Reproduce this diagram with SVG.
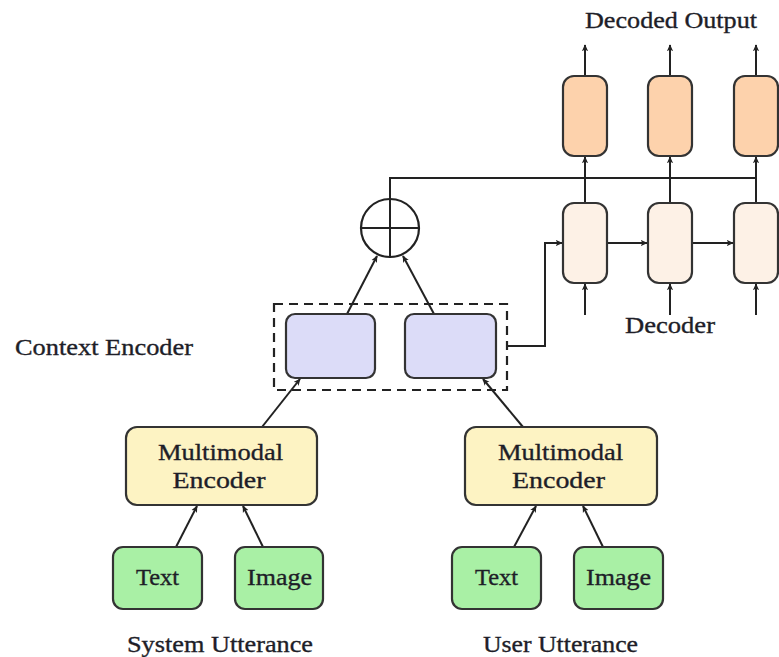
<svg xmlns="http://www.w3.org/2000/svg" width="779" height="657" viewBox="0 0 779 657">
  <defs>
    <marker id="tip" viewBox="0 0 10 10" refX="9" refY="5" markerWidth="7" markerHeight="7" markerUnits="userSpaceOnUse" orient="auto">
      <path d="M0,0.5 L10,5 L0,9.5 L2.5,5 Z" fill="#222"/>
    </marker>
  </defs>
  <style>
    text { font-family: "Liberation Serif", "Times New Roman", serif; font-size: 24px; fill: #1e1e28; stroke: #1e1e28; stroke-width: 0.35; }
    .lbl { text-anchor: middle; }
    .box { stroke: #333; stroke-width: 2.2; }
    .out { fill: #fdd2ac; }
    .dec { fill: #fdf1e6; }
    .ctx { fill: #dcdcf8; }
    .enc { fill: #fdf3c3; }
    .inp { fill: #a9f0a5; }
    .wire { fill: none; stroke: #222; stroke-width: 2; }
    .arr { marker-end: url(#tip); }
    .dash { fill: none; stroke: #222; stroke-width: 2.2; stroke-dasharray: 9 6; }
  </style>
  <rect width="779" height="657" fill="#fff"/>

  <!-- connectors -->
  <g id="connectors">
    <!-- decoder outputs -->
    <line class="wire arr" x1="585" y1="76" x2="585" y2="45"/>
    <line class="wire arr" x1="670" y1="76" x2="670" y2="45"/>
    <line class="wire arr" x1="756" y1="76" x2="756" y2="45"/>
    <!-- decoder states up to output cells -->
    <line class="wire arr" x1="585" y1="203" x2="585" y2="157"/>
    <line class="wire arr" x1="670" y1="203" x2="670" y2="157"/>
    <line class="wire arr" x1="756" y1="203" x2="756" y2="157"/>
    <!-- combined context fed to every step -->
    <polyline class="wire" points="390,199 390,178 756,178"/>
    <!-- recurrence -->
    <line class="wire arr" x1="607" y1="243" x2="647" y2="243"/>
    <line class="wire arr" x1="692" y1="243" x2="733" y2="243"/>
    <!-- decoder inputs -->
    <line class="wire arr" x1="585" y1="315" x2="585" y2="284"/>
    <line class="wire arr" x1="670" y1="315" x2="670" y2="284"/>
    <line class="wire arr" x1="756" y1="315" x2="756" y2="284"/>
    <!-- context encoder to first decoder step -->
    <polyline class="wire arr" points="508,346 545,346 545,243 562,243"/>
    <!-- context cells to sum -->
    <line class="wire arr" x1="347" y1="314" x2="377" y2="256"/>
    <line class="wire arr" x1="434" y1="314" x2="403" y2="256"/>
    <!-- encoders to context cells -->
    <line class="wire arr" x1="262" y1="427" x2="300" y2="379"/>
    <line class="wire arr" x1="523" y1="427" x2="483" y2="379"/>
    <!-- inputs to encoders -->
    <line class="wire arr" x1="176" y1="547" x2="197" y2="506"/>
    <line class="wire arr" x1="263" y1="547" x2="243" y2="506"/>
    <line class="wire arr" x1="514" y1="547" x2="536" y2="506"/>
    <line class="wire arr" x1="603" y1="547" x2="583" y2="506"/>
  </g>

  <!-- output layer -->
  <g id="out1"><rect class="box out" x="563" y="76" width="44" height="80" rx="11"/></g>
  <g id="out2"><rect class="box out" x="648" y="76" width="44" height="80" rx="11"/></g>
  <g id="out3"><rect class="box out" x="734" y="76" width="44" height="80" rx="11"/></g>
  <g id="title-output"><text class="lbl" x="671" y="28" textLength="172" lengthAdjust="spacingAndGlyphs">Decoded Output</text></g>

  <!-- decoder cells -->
  <g id="dec1"><rect class="box dec" x="563" y="203" width="44" height="80" rx="11"/></g>
  <g id="dec2"><rect class="box dec" x="648" y="203" width="44" height="80" rx="11"/></g>
  <g id="dec3"><rect class="box dec" x="734" y="203" width="44" height="80" rx="11"/></g>
  <g id="title-decoder"><text class="lbl" x="670" y="333" textLength="90" lengthAdjust="spacingAndGlyphs">Decoder</text></g>

  <!-- sum node -->
  <g id="sum">
    <circle cx="390" cy="228" r="29" fill="#fff" stroke="#222" stroke-width="2.2"/>
    <line x1="361" y1="228" x2="419" y2="228" stroke="#222" stroke-width="2"/>
    <line x1="390" y1="199" x2="390" y2="257" stroke="#222" stroke-width="2"/>
  </g>

  <!-- context encoder -->
  <g id="context-encoder">
    <rect class="dash" x="274" y="304" width="233" height="86"/>
    <rect class="box ctx" x="286" y="314" width="89" height="64" rx="9"/>
    <rect class="box ctx" x="405" y="314" width="91" height="64" rx="9"/>
    <text x="15" y="355" textLength="178" lengthAdjust="spacingAndGlyphs">Context Encoder</text>
  </g>

  <!-- multimodal encoders -->
  <g id="enc-system">
    <rect class="box enc" x="126" y="427" width="191" height="78" rx="11"/>
    <text class="lbl" x="220.5" y="460" textLength="125" lengthAdjust="spacingAndGlyphs">Multimodal</text>
    <text class="lbl" x="219" y="488" textLength="93" lengthAdjust="spacingAndGlyphs">Encoder</text>
  </g>
  <g id="enc-user">
    <rect class="box enc" x="465" y="427" width="192" height="78" rx="11"/>
    <text class="lbl" x="560.5" y="460" textLength="125" lengthAdjust="spacingAndGlyphs">Multimodal</text>
    <text class="lbl" x="558.5" y="488" textLength="93" lengthAdjust="spacingAndGlyphs">Encoder</text>
  </g>

  <!-- inputs -->
  <g id="sys-text">
    <rect class="box inp" x="113" y="547" width="89" height="62" rx="10"/>
    <text class="lbl" x="157.5" y="585" textLength="43" lengthAdjust="spacingAndGlyphs">Text</text>
  </g>
  <g id="sys-image">
    <rect class="box inp" x="235" y="547" width="88" height="62" rx="10"/>
    <text class="lbl" x="279.5" y="585" textLength="65" lengthAdjust="spacingAndGlyphs">Image</text>
  </g>
  <g id="user-text">
    <rect class="box inp" x="452" y="547" width="89" height="62" rx="10"/>
    <text class="lbl" x="496.5" y="585" textLength="43" lengthAdjust="spacingAndGlyphs">Text</text>
  </g>
  <g id="user-image">
    <rect class="box inp" x="574" y="547" width="89" height="62" rx="10"/>
    <text class="lbl" x="618.5" y="585" textLength="65" lengthAdjust="spacingAndGlyphs">Image</text>
  </g>

  <g id="caption-system"><text class="lbl" x="220" y="652" textLength="186" lengthAdjust="spacingAndGlyphs">System Utterance</text></g>
  <g id="caption-user"><text class="lbl" x="560.5" y="652" textLength="155" lengthAdjust="spacingAndGlyphs">User Utterance</text></g>
</svg>
